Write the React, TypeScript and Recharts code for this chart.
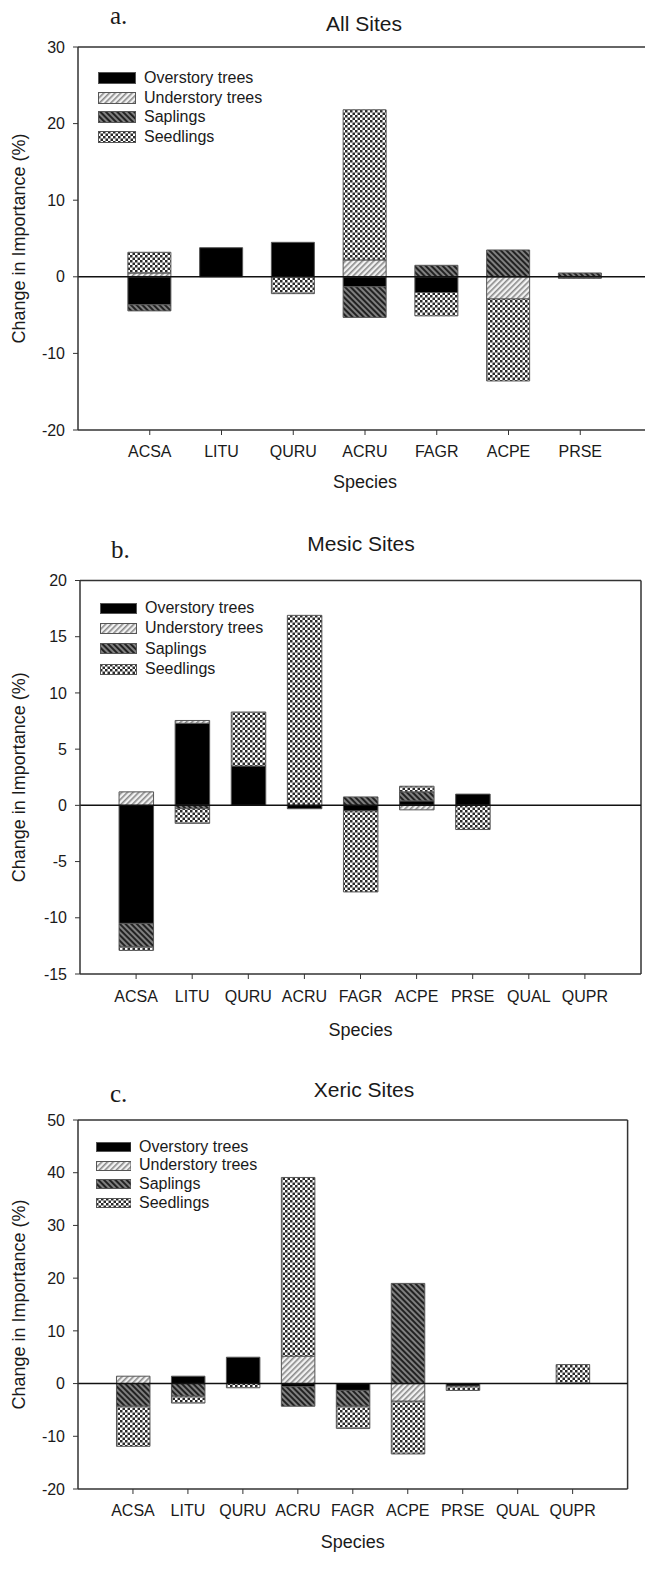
import React from 'react';
import { BarChart, Bar, XAxis, YAxis, ReferenceLine, Legend, Label } from 'recharts';

const FONT = 'Arial, "Liberation Sans", Helvetica, sans-serif';
const TXT = '#1a1a1a';
const AX = '#333';

// Categories
const speciesA = ['ACSA', 'LITU', 'QURU', 'ACRU', 'FAGR', 'ACPE', 'PRSE'];
const speciesBC = ['ACSA', 'LITU', 'QURU', 'ACRU', 'FAGR', 'ACPE', 'PRSE', 'QUAL', 'QUPR'];

// Series names / styles
const seriesNames = ['Overstory trees', 'Understory trees', 'Saplings', 'Seedlings'];
const seriesKeys = ['over', 'under', 'sapl', 'seed'];
const seriesFills = ['#000000', 'url(#pUnder)', 'url(#pSapl)', 'url(#pSeed)'];

// a. All Sites
const overA = [-3.65, 3.8, 4.5, -1.3, -2.05, 0, 0];
const underA = [0.5, 0, 0, 2.2, 0, -2.9, 0];
const saplA = [-0.8, 0, 0, -4.0, 1.5, 3.5, 0.5];
const seedA = [2.7, 0, -2.2, 19.6, -3.05, -10.7, -0.2];

// b. Mesic Sites
const overB = [-10.5, 7.3, 3.5, -0.3, -0.5, 0.4, 1.0, 0, 0];
const underB = [1.2, 0.25, 0, 0, 0, -0.4, 0, 0, 0];
const saplB = [-2.1, -0.3, 0, 0, 0.75, 0.8, 0, 0, 0];
const seedB = [-0.3, -1.3, 4.8, 16.9, -7.2, 0.5, -2.15, 0, 0];

// c. Xeric Sites
const overC = [0, 1.4, 5.0, -0.6, -1.3, 0, -0.5, 0, 0];
const underC = [1.4, 0, 0, 5.2, 0, -3.35, 0, 0, 0];
const saplC = [-4.3, -2.4, 0, -3.7, -3.0, 19.0, 0, 0, 0];
const seedC = [-7.6, -1.3, -0.8, 33.9, -4.2, -10.0, -0.8, 0, 3.6];

// Axis ticks
const yTicksA = [-20, -10, 0, 10, 20, 30];
const yTicksB = [-15, -10, -5, 0, 5, 10, 15, 20];
const yTicksC = [-20, -10, 0, 10, 20, 30, 40, 50];

function buildRows(species: string[], over: number[], under: number[], sapl: number[], seed: number[]) {
  return species.map((s, i) => ({ pos: i + 1, name: s, over: over[i], under: under[i], sapl: sapl[i], seed: seed[i] }));
}

const rowsA = buildRows(speciesA, overA, underA, saplA, seedA);
const rowsB = buildRows(speciesBC, overB, underB, saplB, seedB);
const rowsC = buildRows(speciesBC, overC, underC, saplC, seedC);

function LegendBox({ rowH, swW, swH, gap }: any) {
  return (
    <div style={{ fontFamily: FONT, fontSize: 16, color: TXT }}>
      {seriesNames.map((n, i) => (
        <div key={n} style={{ display: 'flex', alignItems: 'center', height: rowH }}>
          <svg width={swW} height={swH} style={{ display: 'block' }}>
            <rect x={0.5} y={0.5} width={swW - 1} height={swH - 1} fill={seriesFills[i]} stroke="#555" strokeWidth={1} />
          </svg>
          <span style={{ marginLeft: gap, lineHeight: rowH + 'px', whiteSpace: 'nowrap' }}>{n}</span>
        </div>
      ))}
    </div>
  );
}

function Panel(p: any) {
  const { top, width, height, margin, xAxisH, yW, species, rows, domainX, yDomain, yTicks, barSize,
    legend, tickMarginX, tickMarginY, speciesOffset, rightBorder } = p;
  const xt = species.map((_: string, i: number) => i + 1);
  return (
    <div style={{ position: 'absolute', left: 0, top }}>
      <BarChart width={width} height={height} data={rows} margin={margin} stackOffset="sign">
        <XAxis
          dataKey="pos"
          type="number"
          domain={domainX}
          ticks={xt}
          interval={0}
          allowDataOverflow
          tickFormatter={(v: number) => species[v - 1]}
          height={xAxisH}
          axisLine={{ stroke: AX, strokeWidth: 1.5 }}
          tickLine={{ stroke: AX, strokeWidth: 1 }}
          tickSize={5}
          tickMargin={tickMarginX}
          tick={{ fill: TXT, fontSize: 16, fontFamily: FONT }}
        >
          <Label value="Species" position="insideBottom" offset={speciesOffset}
            style={{ fontSize: 18, fill: TXT, fontFamily: FONT }} />
        </XAxis>
        <YAxis
          type="number"
          domain={yDomain}
          ticks={yTicks}
          interval={0}
          allowDataOverflow
          width={yW}
          axisLine={{ stroke: AX, strokeWidth: 1.5 }}
          tickLine={{ stroke: AX, strokeWidth: 1 }}
          tickSize={5}
          tickMargin={tickMarginY}
          tick={{ fill: TXT, fontSize: 16, fontFamily: FONT }}
        >
          <Label value="Change in Importance (%)" angle={-90} position="insideLeft" offset={19}
            style={{ fontSize: 18, fill: TXT, fontFamily: FONT, textAnchor: 'middle' }} />
        </YAxis>
        <ReferenceLine y={yDomain[1]} stroke={AX} strokeWidth={1.5} />
        {rightBorder ? <ReferenceLine x={domainX[1]} stroke={AX} strokeWidth={1.5} /> : null}
        {seriesKeys.map((k, i) => (
          <Bar key={k} dataKey={k} name={seriesNames[i]} stackId="s" fill={seriesFills[i]}
            stroke="#555" strokeWidth={1} barSize={barSize} isAnimationActive={false} />
        ))}
        <ReferenceLine y={0} stroke="#111" strokeWidth={1.5} />
        <Legend
          layout="vertical"
          align="center"
          verticalAlign="middle"
          wrapperStyle={{ left: legend.left, top: legend.top, width: 'auto' }}
          content={() => <LegendBox rowH={legend.rowH} swW={legend.swW} swH={legend.swH} gap={legend.gap} />}
        />
      </BarChart>
    </div>
  );
}

const titleStyle: any = { position: 'absolute', fontFamily: FONT, fontSize: 21, lineHeight: '21px', color: TXT, textAlign: 'center', whiteSpace: 'nowrap' };
const letterStyle: any = { position: 'absolute', fontFamily: '"Liberation Serif", "Times New Roman", serif', fontSize: 25, lineHeight: '25px', color: TXT, whiteSpace: 'nowrap' };

export default function App() {
  return (
    <div style={{ position: 'absolute', left: 0, top: 0, width: 645, height: 1575, overflow: 'hidden', background: '#fff' }}>
      <svg width={0} height={0} style={{ position: 'absolute' }}>
        <defs>
          <pattern id="pUnder" patternUnits="userSpaceOnUse" width="4" height="4" patternTransform="rotate(45)">
            <rect width="4" height="4" fill="#f2f2f2" />
            <rect width="1.6" height="4" fill="#8a8a8a" />
          </pattern>
          <pattern id="pSapl" patternUnits="userSpaceOnUse" width="4" height="4" patternTransform="rotate(-45)">
            <rect width="4" height="4" fill="#808080" />
            <rect width="2" height="4" fill="#222" />
          </pattern>
          <pattern id="pSeed" patternUnits="userSpaceOnUse" width="5" height="5">
            <rect width="5" height="5" fill="#ffffff" />
            <rect width="2.5" height="2.5" fill="#2a2a2a" />
            <rect x="2.5" y="2.5" width="2.5" height="2.5" fill="#2a2a2a" />
          </pattern>
        </defs>
      </svg>

      <Panel
        top={0} width={660} height={500}
        margin={{ top: 47, right: 8, bottom: 0, left: 0 }}
        xAxisH={70} yW={78}
        species={speciesA} rows={rowsA} domainX={[0, 8]}
        yDomain={[-20, 30]} yTicks={yTicksA} barSize={43}
        legend={{ left: 98, top: 68, rowH: 19.7, swW: 38, swH: 12, gap: 8 }}
        tickMarginX={11} tickMarginY={8} speciesOffset={12} rightBorder={false}
      />
      <Panel
        top={500} width={645} height={545}
        margin={{ top: 80.5, right: 4, bottom: 0, left: 0 }}
        xAxisH={71} yW={80}
        species={speciesBC} rows={rowsB} domainX={[0, 10]}
        yDomain={[-15, 20]} yTicks={yTicksB} barSize={34.5}
        legend={{ left: 100, top: 98, rowH: 20.3, swW: 37, swH: 11, gap: 8 }}
        tickMarginX={12} tickMarginY={8} speciesOffset={9} rightBorder={true}
      />
      <Panel
        top={1045} width={645} height={530}
        margin={{ top: 75, right: 17.4, bottom: 0, left: 0 }}
        xAxisH={86} yW={78}
        species={speciesBC} rows={rowsC} domainX={[0, 10]}
        yDomain={[-20, 50]} yTicks={yTicksC} barSize={33.5}
        legend={{ left: 95.5, top: 92.7, rowH: 18.7, swW: 35.5, swH: 10, gap: 8 }}
        tickMarginX={11} tickMarginY={8} speciesOffset={27} rightBorder={true}
      />

      <div style={{ ...letterStyle, left: 110, top: 3 }}>a.</div>
      <div style={{ ...titleStyle, left: 264, width: 200, top: 12.7 }}>All Sites</div>
      <div style={{ ...letterStyle, left: 111, top: 537 }}>b.</div>
      <div style={{ ...titleStyle, left: 261, width: 200, top: 532.7 }}>Mesic Sites</div>
      <div style={{ ...letterStyle, left: 110, top: 1081 }}>c.</div>
      <div style={{ ...titleStyle, left: 264, width: 200, top: 1078.7 }}>Xeric Sites</div>
    </div>
  );
}
